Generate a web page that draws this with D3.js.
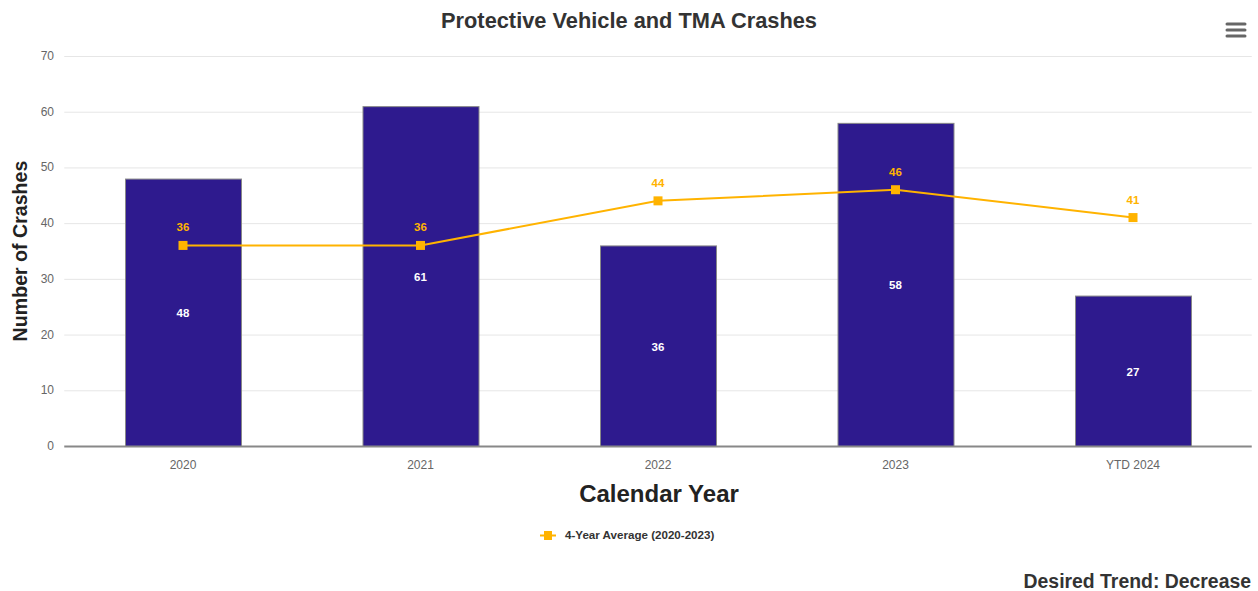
<!DOCTYPE html>
<html><head><meta charset="utf-8">
<script src="https://cdn.jsdelivr.net/npm/d3@7"></script>
<style>body{margin:0;background:#fff;font-family:"Liberation Sans",Arial,sans-serif}</style>
</head><body><svg id="c" width="1258" height="591"></svg>
<script>
const categories = ["2020","2021","2022","2023","YTD 2024"];
const crashes = [48,61,36,58,27];
const average = [36,36,44,46,41];
const yTicks = [0,10,20,30,40,50,60,70];

const svg = d3.select("#c");
const m = {l:64.25, r:1251.75, t:56, b:446};
const x = d3.scaleBand().domain(categories).range([m.l,m.r]);
const y = d3.scaleLinear().domain([0,70]).range([m.b,m.t]);
const barColor = "#2E1A8E", lineColor = "#FFB300";

// grid
svg.append("g").selectAll("line").data(yTicks.filter(d=>d>0)).join("line")
  .attr("x1",m.l).attr("x2",m.r).attr("y1",d=>y(d)+0.5).attr("y2",d=>y(d)+0.5)
  .attr("stroke","#e6e6e6").attr("stroke-width",1);
// y labels
svg.append("g").selectAll("text").data(yTicks).join("text")
  .attr("x",54).attr("y",d=>y(d)+4).attr("text-anchor","end")
  .attr("font-size",12).attr("fill","#666").text(d=>d);

// bars
const bw = 116;
svg.append("g").selectAll("rect").data(crashes).join("rect")
  .attr("x",(d,i)=>x(categories[i])+x.bandwidth()/2-bw/2+0.5)
  .attr("y",d=>y(d)+0.5).attr("width",bw).attr("height",d=>y(0)-y(d))
  .attr("fill",barColor).attr("stroke","#888").attr("stroke-width",1);
svg.append("g").selectAll("text").data(crashes).join("text")
  .attr("x",(d,i)=>x(categories[i])+x.bandwidth()/2)
  .attr("y",d=>(y(d)+y(0))/2+5).attr("text-anchor","middle")
  .attr("font-size",11.5).attr("font-weight","bold").attr("fill","#fff").text(d=>d);

// x axis line
svg.append("line").attr("x1",m.l).attr("x2",m.r).attr("y1",m.b+0.5).attr("y2",m.b+0.5)
  .attr("stroke","#888").attr("stroke-width",2);
svg.append("g").selectAll("text").data(categories).join("text")
  .attr("x",d=>x(d)+x.bandwidth()/2).attr("y",469).attr("text-anchor","middle")
  .attr("font-size",12).attr("fill","#666").text(d=>d);

// line
const line = d3.line().x((d,i)=>x(categories[i])+x.bandwidth()/2).y(d=>y(d));
svg.append("path").datum(average).attr("d",line).attr("fill","none")
  .attr("stroke",lineColor).attr("stroke-width",2);
svg.append("g").selectAll("rect").data(average).join("rect")
  .attr("x",(d,i)=>x(categories[i])+x.bandwidth()/2-4.5).attr("y",d=>y(d)-4.5)
  .attr("width",9).attr("height",9).attr("fill",lineColor);
svg.append("g").selectAll("text").data(average).join("text")
  .attr("x",(d,i)=>x(categories[i])+x.bandwidth()/2).attr("y",d=>y(d)-14)
  .attr("text-anchor","middle").attr("font-size",11.5).attr("font-weight","bold")
  .attr("fill",lineColor).text(d=>d);

// titles
svg.append("text").attr("x",629).attr("y",28).attr("text-anchor","middle")
  .attr("font-size",21.8).attr("font-weight","bold").attr("fill","#333")
  .text("Protective Vehicle and TMA Crashes");
svg.append("text").attr("transform","translate(27,251) rotate(-90)").attr("text-anchor","middle")
  .attr("font-size",19.6).attr("font-weight","bold").attr("fill","#222").text("Number of Crashes");
svg.append("text").attr("x",659).attr("y",502).attr("text-anchor","middle")
  .attr("font-size",24).attr("font-weight","bold").attr("fill","#222").text("Calendar Year");

// legend
svg.append("line").attr("x1",540).attr("x2",556).attr("y1",535.5).attr("y2",535.5)
  .attr("stroke",lineColor).attr("stroke-width",2);
svg.append("rect").attr("x",544).attr("y",531).attr("width",8).attr("height",9).attr("fill",lineColor);
svg.append("text").attr("x",565).attr("y",539).attr("font-size",11.6).attr("font-weight","bold")
  .attr("fill","#333").text("4-Year Average (2020-2023)");

// desired trend
svg.append("text").attr("x",1251).attr("y",588).attr("text-anchor","end")
  .attr("font-size",19.4).attr("font-weight","bold").attr("fill","#333").text("Desired Trend: Decrease");

// menu icon
[24,30,36].forEach(yy=>svg.append("line").attr("x1",1227).attr("x2",1245).attr("y1",yy).attr("y2",yy)
  .attr("stroke","#666").attr("stroke-width",3).attr("stroke-linecap","round"));
</script></body></html>
